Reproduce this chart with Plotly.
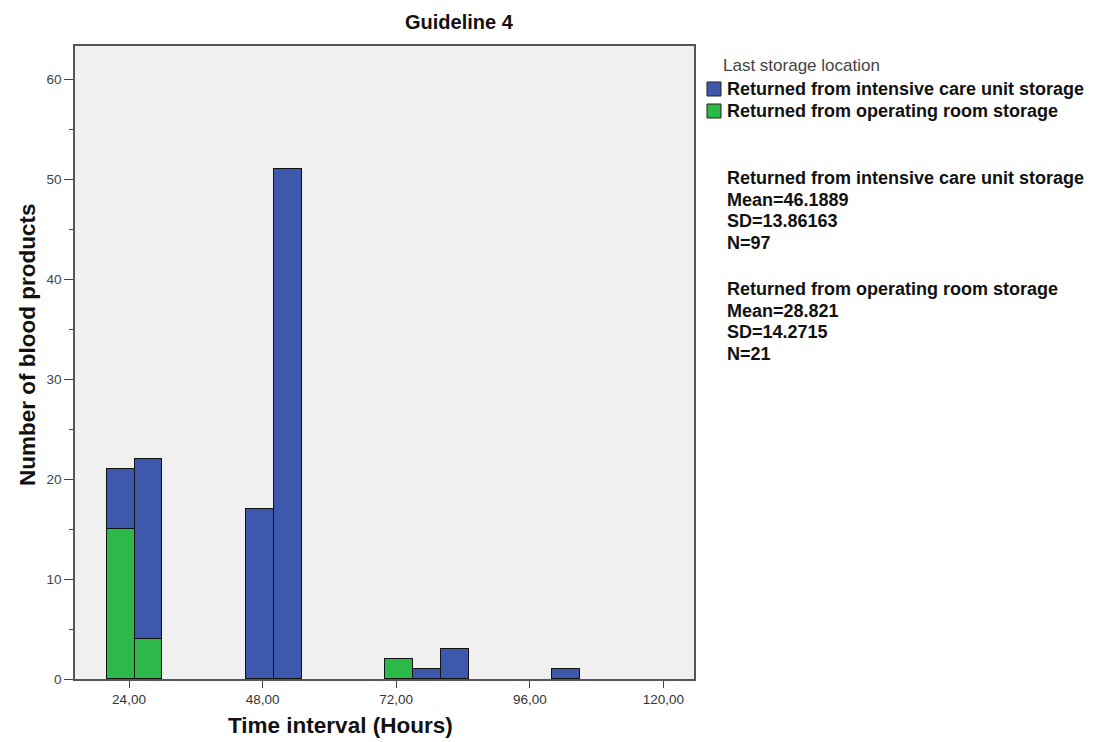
import plotly.graph_objects as go

# ---- data ----
bin_starts = [20, 25, 45, 50, 70, 75, 80, 100]
bin_width = 5
icu_counts = [6, 18, 17, 51, 0, 1, 3, 1]      # Returned from intensive care unit storage
or_counts = [15, 4, 0, 0, 2, 0, 0, 0]         # Returned from operating room storage
series_names = ["Returned from intensive care unit storage", "Returned from operating room storage"]
legend_title = "Last storage location"
x_tickvals = [24, 48, 72, 96, 120]
x_ticktext = ["24,00", "48,00", "72,00", "96,00", "120,00"]
y_tickvals = [0, 10, 20, 30, 40, 50, 60]
stats_icu = ["Returned from intensive care unit storage", "Mean=46.1889", "SD=13.86163", "N=97"]
stats_or = ["Returned from operating room storage", "Mean=28.821", "SD=14.2715", "N=21"]

BLUE = "#3E58AC"
GREEN = "#2DB84A"
FONT = "Liberation Sans, Arial, sans-serif"

W, H = 1096, 742
L, R, T, B = 75, 694, 46, 679


def px_x(p):
    return (p - L) / (R - L)


def px_y(p):
    return (B - p) / (B - T)


fig = go.Figure()
fig.add_trace(go.Bar(x=bin_starts, y=or_counts, width=bin_width, offset=0,
                     name=series_names[1], marker=dict(color=GREEN, line=dict(color="#111111", width=1.5))))
fig.add_trace(go.Bar(x=bin_starts, y=icu_counts, width=bin_width, offset=0,
                     name=series_names[0], marker=dict(color=BLUE, line=dict(color="#111111", width=1.5))))

annotations = [
    dict(text="<b>Guideline 4</b>", x=px_x(459), y=px_y(22), xref="paper", yref="paper",
         showarrow=False, font=dict(size=20, color="#111", family=FONT), xanchor="center", yanchor="middle"),
    dict(text="<b>Time interval (Hours)</b>", x=px_x(340), y=px_y(725), xref="paper", yref="paper",
         showarrow=False, font=dict(size=22.5, color="#111", family=FONT), xanchor="center", yanchor="middle"),
    dict(text="<b>Number of blood products</b>", x=px_x(27), y=px_y(345), xref="paper", yref="paper",
         showarrow=False, textangle=-90, font=dict(size=22.5, color="#111", family=FONT),
         xanchor="center", yanchor="middle"),
    dict(text=legend_title, x=px_x(721), y=px_y(65), xref="paper", yref="paper", showarrow=False,
         xanchor="left", yanchor="middle", font=dict(size=17, color="#444", family=FONT)),
]
shapes = []
legend_items = [(series_names[0], BLUE, 89), (series_names[1], GREEN, 111)]
for name, color, yc in legend_items:
    shapes.append(dict(type="rect", xref="paper", yref="paper",
                       x0=px_x(707), x1=px_x(721), y0=px_y(yc + 7), y1=px_y(yc - 7),
                       fillcolor=color, line=dict(color="#222", width=1)))
    annotations.append(dict(text="<b>%s</b>" % name, x=px_x(725), y=px_y(yc), xref="paper", yref="paper",
                            showarrow=False, xanchor="left", yanchor="middle",
                            font=dict(size=18, color="#111", family=FONT)))

for block, y0 in ((stats_icu, 178), (stats_or, 289)):
    for i, line in enumerate(block):
        annotations.append(dict(text="<b>%s</b>" % line, x=px_x(725), y=px_y(y0 + 21.7 * i),
                                xref="paper", yref="paper", showarrow=False, xanchor="left",
                                yanchor="middle", font=dict(size=18, color="#111", family=FONT)))

fig.update_layout(
    width=W, height=H,
    margin=dict(l=L, r=W - R, t=T, b=H - B),
    paper_bgcolor="white", plot_bgcolor="#F0F0F0",
    barmode="stack", bargap=0,
    font=dict(family=FONT, color="#333"),
    showlegend=False,
    annotations=annotations,
    shapes=shapes,
)
fig.update_xaxes(range=[14.3, 125.5], tickvals=x_tickvals, ticktext=x_ticktext,
                 ticks="outside", ticklen=7, tickcolor="#444", showgrid=False, zeroline=False,
                 showline=True, linecolor="#555", linewidth=1.5, mirror=True,
                 tickfont=dict(size=13.5, color="#333", family=FONT))
fig.update_yaxes(range=[0, 63.3], tickvals=y_tickvals, ticks="outside", ticklen=9,
                 tickcolor="#444", showgrid=False, zeroline=False,
                 showline=True, linecolor="#555", linewidth=1.5, mirror=True,
                 minor=dict(dtick=5, ticks="outside", ticklen=4, tickcolor="#444", showgrid=False),
                 tickfont=dict(size=13.5, color="#444", family=FONT))

fig.write_html("out.html", config={"displayModeBar": False},
               post_script="document.body.style.margin='0';")
